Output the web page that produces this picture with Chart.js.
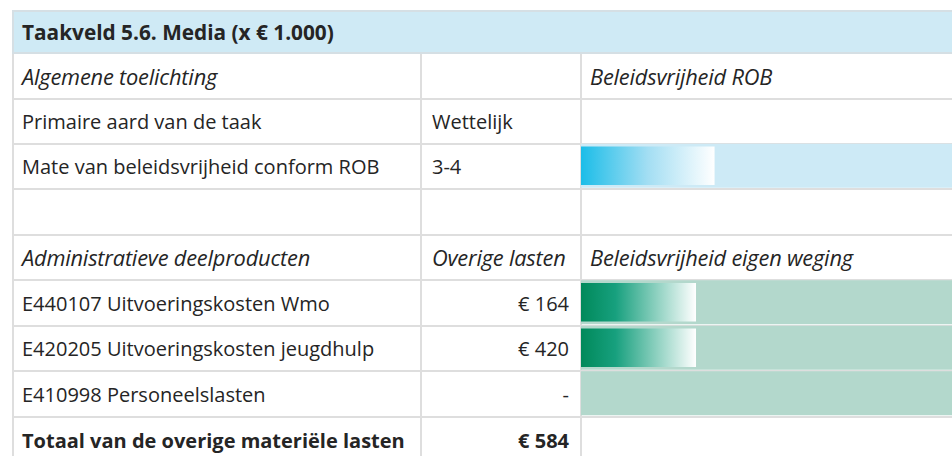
<!DOCTYPE html>
<html>
<head>
<meta charset="utf-8">
<script src="https://cdn.jsdelivr.net/npm/chart.js@4"></script>
<style>
  html, body { margin: 0; padding: 0; background: #fff; }
  body { width: 952px; height: 456px; overflow: hidden; position: relative; font-family: "Open Sans", sans-serif; color: #252525; }
  table { position: absolute; left: 12px; top: 10px; border-collapse: collapse; table-layout: fixed; width: 960px; font-size: 20px; }
  td { border: 2px solid #dedede; padding: 0 8px; white-space: nowrap; overflow: hidden; }
  td.c2 { padding-left: 10px; }
  td.num { text-align: right; padding-right: 11px; }
  tr.head td { background: #cfeaf5; font-weight: bold; font-size: 20.8px; border-color: #d5dfe4; }
  tr.it td { font-style: italic; font-size: 21.8px; letter-spacing: -0.2px; }
  tr.total td { font-weight: bold; border-top: 2px solid #8a8a8a; }
  #wrap { position: absolute; left: 581px; top: 52px; width: 371px; height: 364px; }
</style>
</head>
<body>
<table id="tbl"></table>
<div id="wrap"><canvas id="bars" width="371" height="364"></canvas></div>
<script>
// ---- data ----
const title = 'Taakveld 5.6. Media (x € 1.000)';
const rowLabels = ['Algemene toelichting', 'Primaire aard van de taak', 'Mate van beleidsvrijheid conform ROB', '',
  'Administratieve deelproducten', 'E440107 Uitvoeringskosten Wmo', 'E420205 Uitvoeringskosten jeugdhulp', 'E410998 Personeelslasten'];
const col2Text = ['', 'Wettelijk', '3-4', '', 'Overige lasten', '€ 164', '€ 420', '-'];
const col3Text = ['Beleidsvrijheid ROB', '', '', '', 'Beleidsvrijheid eigen weging', '', '', ''];
const totalLabel = 'Totaal van de overige materiële lasten';
const totalValue = '€ 584';
const scaleMax = 10;
const robScore = [null, null, 3.6, null, null, null, null, null];
const eigenWeging = [null, null, null, null, null, 3.1, 3.1, 0];
const bandRows = [null, null, 10, null, null, 10, 10, 10];

// ---- table ----
const italicRows = [0, 4];
const rowHeights = [46, 45, 45, 46, 45, 46, 45, 46];
const tbl = document.getElementById('tbl');
let html = '<colgroup><col style="width:408px"><col style="width:160px"><col></colgroup>';
html += '<tr class="head" style="height:42px"><td colspan="3">' + title + '</td></tr>';
rowLabels.forEach((lab, i) => {
    const num = i >= 5 ? ' num' : '';
    const cls = italicRows.includes(i) ? 'it' : '';
    html += '<tr class="' + cls + '" style="height:' + rowHeights[i] + 'px"><td>' + lab + '</td><td class="c2' + num + '">' + col2Text[i] + '</td><td>' + col3Text[i] + '</td></tr>';
});
html += '<tr class="total" style="height:46px"><td>' + totalLabel + '</td><td class="c2 num">' + totalValue + '</td><td style="border-top-color:#dedede"></td></tr>';
tbl.innerHTML = html;

// ---- bars ----
const blue = { band: '#cdeaf6', stops: [[0, '#1bbde8'], [0.5, '#a3def3'], [1, '#ffffff']] };
const green = { band: '#b3d8cc', stops: [[0, '#00895a'], [0.3, '#17a07e'], [1, '#ffffff']] };

function fadeFill(c) {
    const chart = c.chart;
    const xs = chart.scales.x;
    const pal = c.dataIndex === 2 ? blue : green;
    if (!xs || c.raw == null) return pal.stops[0][1];
    const x0 = xs.getPixelForValue(0), x1 = xs.getPixelForValue(c.raw);
    const g = chart.ctx.createLinearGradient(x0, 0, x1, 0);
    pal.stops.forEach(s => g.addColorStop(s[0], s[1]));
    return g;
}

const merged = robScore.map((v, i) => v != null ? v : eigenWeging[i]);

new Chart(document.getElementById('bars'), {
    type: 'bar',
    data: {
        labels: rowLabels,
        datasets: [
            { data: merged, backgroundColor: fadeFill, barPercentage: 0.85, categoryPercentage: 1, grouped: false, order: 0 },
            { data: bandRows, backgroundColor: bandRows.map((v, i) => i === 2 ? blue.band : green.band), barPercentage: 0.97, categoryPercentage: 1, grouped: false, order: 1 }
        ]
    },
    options: {
        indexAxis: 'y',
        responsive: false,
        animation: false,
        layout: { padding: 0 },
        plugins: { legend: { display: false }, tooltip: { enabled: false } },
        scales: {
            x: { display: false, min: 0, max: scaleMax },
            y: { display: false }
        }
    }
});
</script>
</body>
</html>
